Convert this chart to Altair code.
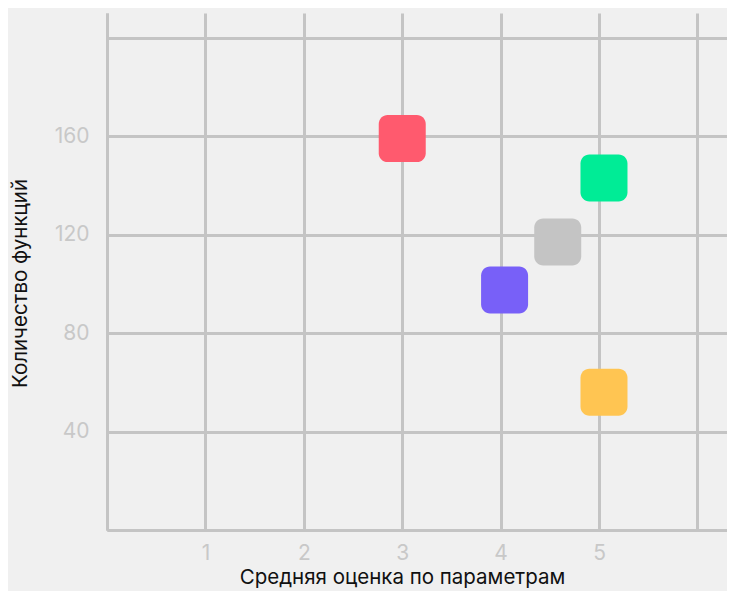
import altair as alt
import pandas as pd

names = ["A", "B", "C", "D", "E"]
score = [3.0, 5.05, 4.58, 4.04, 5.05]
count = [159, 143, 117, 97.5, 56]
colors = ["#ff5a6e", "#00ec96", "#c4c4c4", "#7860f8", "#ffc552"]

df = pd.DataFrame({"name": names, "score": score, "count": count})

r = 0.38
k = 1 - r
shape = (f"M{-k},-1 L{k},-1 A{r},{r} 0 0 1 1,{-k} L1,{k} A{r},{r} 0 0 1 {k},1 "
         f"L{-k},1 A{r},{r} 0 0 1 -1,{k} L-1,{-k} A{r},{r} 0 0 1 {-k},-1 Z")

chart = alt.Chart(df).mark_point(
    shape=shape, filled=True, opacity=1, size=47 * 47
).encode(
    x=alt.X("score:Q", scale=alt.Scale(domain=[0, 6.3], nice=False, zero=False),
            axis=alt.Axis(values=[0, 1, 2, 3, 4, 5, 6], title="Средняя оценка по параметрам",
                          labelExpr="datum.value == 0 || datum.value == 6 ? '' : datum.label",
                          labelPadding=12,
                          titleX=295, titleY=47, titleBaseline="middle", titleAlign="center")),
    y=alt.Y("count:Q", scale=alt.Scale(domain=[0, 210], nice=False),
            axis=alt.Axis(values=[0, 40, 80, 120, 160, 200], title="Количество функций",
                          labelExpr="datum.value == 0 || datum.value == 200 ? '' : datum.label",
                          labelPadding=18,
                          titleX=-87, titleY=270, titleBaseline="middle", titleAlign="center",
                          titleAngle=-90)),
    color=alt.Color("name:N", scale=alt.Scale(domain=names, range=colors), legend=None),
).properties(
    width=620, height=517,
    background="#f0f0f0",
    autosize=alt.AutoSizeParams(type="none"),
    padding={"left": 99, "top": 5, "right": 0, "bottom": 61},
).configure_view(
    stroke=None
).configure_axis(
    grid=True, gridColor="#c4c4c4", gridWidth=3,
    domainColor="#c4c4c4", domainWidth=3,
    ticks=False, labelColor="#c8c8c8", labelFontSize=21, labelFont="Inter",
    titleFont="Inter", titleFontSize=20.5, titleFontWeight="normal", titleColor="#111111"
)

chart.save("out.html", embed_options={"renderer": "svg", "actions": False})
